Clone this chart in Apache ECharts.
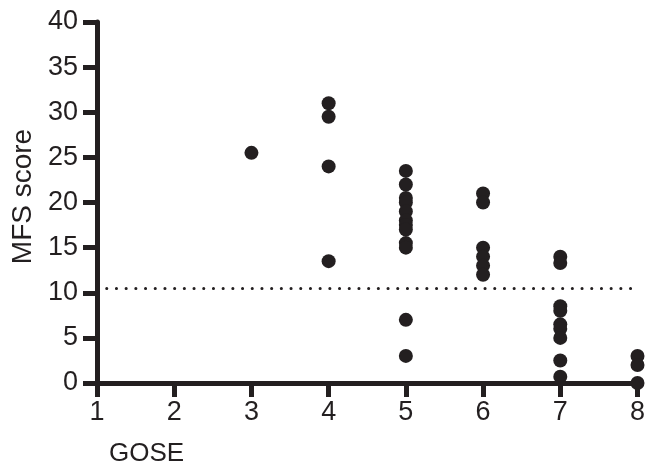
<!DOCTYPE html>
<html>
<head>
<meta charset="utf-8">
<script src="https://cdn.jsdelivr.net/npm/echarts@6/dist/echarts.min.js"></script>
<style>
  html, body { margin: 0; padding: 0; background: #fff; }
  #chart { width: 648px; height: 475px; }
</style>
</head>
<body>
<div id="chart"></div>
<script>
// MFS score per GOSE group
const gose3 = [25.5]
const gose4 = [31, 29.5, 24, 13.5]
const gose5 = [23.5, 22, 20.5, 20, 19, 18, 17.5, 17, 15.5, 15, 7, 3]
const gose6 = [21, 20, 15, 14, 13, 12]
const gose7 = [14, 13.3, 8.5, 8, 6.5, 6, 5, 2.5, 0.7]
const gose8 = [3, 2, 0]
const cutoff = 10.5

const groups = { 3: gose3, 4: gose4, 5: gose5, 6: gose6, 7: gose7, 8: gose8 }
const points = []
Object.keys(groups).forEach(function (g) {
	groups[g].forEach(function (v) { points.push([Number(g), v]) })
})

const ink = '#231f20'
const font = 'Liberation Sans, Arial, Helvetica, sans-serif'

const chart = echarts.init(document.getElementById('chart'))
chart.setOption({
	animation: false,
	title: {
		text: 'GOSE',
		left: 104,
		top: 436,
		textStyle: { color: ink, fontFamily: font, fontSize: 26, fontWeight: 'normal' }
	},
	grid: { left: 97, right: 9, top: 22, bottom: 92 },
	xAxis: {
		type: 'value',
		min: 1,
		max: 8,
		interval: 1,
		z: 10,
		axisLine: { lineStyle: { color: ink, width: 5 } },
		axisTick: { length: 14, lineStyle: { color: ink, width: 5 } },
		axisLabel: { color: ink, fontFamily: font, fontSize: 27, margin: 16 },
		splitLine: { show: false }
	},
	yAxis: {
		type: 'value',
		min: 0,
		max: 40,
		interval: 5,
		z: 10,
		name: 'MFS score',
		nameLocation: 'middle',
		nameGap: 53,
		nameTextStyle: { color: ink, fontFamily: font, fontSize: 28, padding: [0, 0, 0, 12] },
		axisLine: { lineStyle: { color: ink, width: 5 } },
		axisTick: { length: 14, lineStyle: { color: ink, width: 5 } },
		axisLabel: { color: ink, fontFamily: font, fontSize: 27, margin: 19 },
		splitLine: { show: false }
	},
	series: [{
		type: 'scatter',
		data: points,
		symbolSize: 14,
		clip: false,
		itemStyle: { color: ink, opacity: 1 },
		markLine: {
			silent: true,
			symbol: 'none',
			label: { show: false },
			lineStyle: { color: ink, width: 3, type: [0.1, 9.6], cap: 'round', opacity: 1 },
			data: [[{ coord: [1, cutoff] }, { coord: [8, cutoff] }]]
		}
	}]
})
</script>
</body>
</html>
